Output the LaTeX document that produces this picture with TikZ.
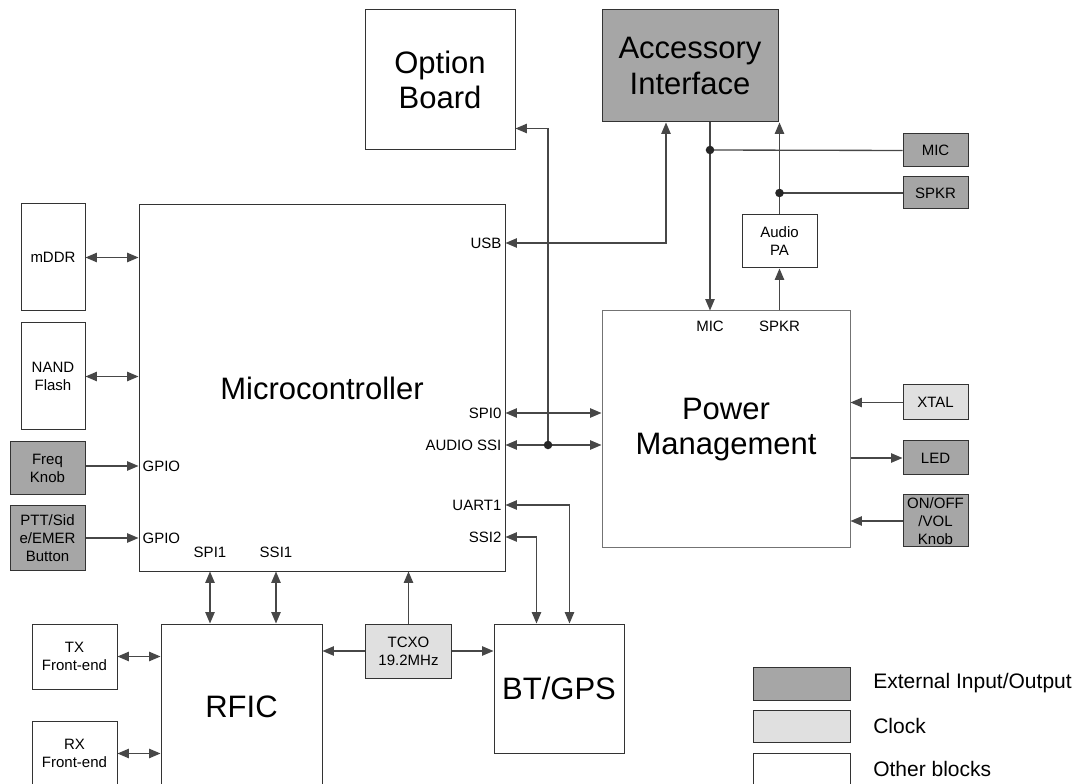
\documentclass[tikz,border=0pt]{standalone}
\usepackage{fontspec}
\setmainfont{Liberation Sans}
\usetikzlibrary{arrows.meta,calc}

\tikzset{
  sz/.style 2 args={minimum width=#1*0.75pt,minimum height=#2*0.75pt},
  blk/.style={draw=black!80,fill=white,line width=0.75pt,inner sep=0pt,align=center,
    font=\fontsize{11.25}{13.5}\selectfont},
  ext/.style={blk,fill=black!35},
  clk/.style={blk,fill=black!12},
  big/.style={font=\fontsize{23.25}{26.5}\selectfont},
  lbl/.style={inner sep=1pt,font=\fontsize{11.25}{13.5}\selectfont},
  legtxt/.style={anchor=west,inner sep=0pt,font=\fontsize{15.75}{18}\selectfont},
  link/.style={draw=black!72,line width=1pt},
  dot/.style={fill=black!85}
}

\begin{document}
\begin{tikzpicture}[x=0.75pt,y=-0.75pt,>={Triangle[length=8.5pt,width=7pt]}]
\useasboundingbox (0,0) rectangle (1083,784);
\clip (0,0) rectangle (1083,784);

% top blocks
\node[blk,big,sz={150}{140}] (opt) at (440,80) {Option\\Board};
\node[ext,big,sz={176}{112}] (acc) at (690,66) {Accessory\\Interface};
\node[ext,sz={65}{33}] (mic) at (935.5,150.5) {MIC};
\node[ext,sz={65}{32}] (spkr) at (935.5,193) {SPKR};
\node[blk,sz={75}{53}] (pa) at (779.5,241.5) {Audio\\PA};

% main blocks
\node[blk,big,sz={366}{366}] (micro) at (322,388) {Microcontroller};
\node[blk,big,sz={248}{237},draw=black!55] (pm) at (726,429.5) {Power\\Management};
\node[blk,big,sz={161}{166}] (rfic) at (241.5,707) {RFIC};
\node[blk,big,sz={130}{129}] (bt) at (559,688.5) {BT/GPS};
\node[clk,sz={86}{54}] (tcxo) at (408.5,651) {TCXO\\19.2MHz};

% left side
\node[blk,sz={64}{107}] (mddr) at (53,257.5) {mDDR};
\node[blk,sz={64}{107}] (nand) at (53,376.5) {NAND\\Flash};
\node[ext,sz={75}{53}] (freq) at (47.5,468.5) {Freq\\Knob};
\node[ext,sz={75}{64}] (ptt) at (47.5,538) {PTT/Sid\\e/EMER\\Button};
\node[blk,sz={85}{65}] (tx) at (74.5,656.5) {TX\\Front-end};
\node[blk,sz={85}{65}] (rx) at (74.5,753.5) {RX\\Front-end};

% right side
\node[clk,sz={65}{35}] (xtal) at (935.5,402.5) {XTAL};
\node[ext,sz={65}{34}] (led) at (935.5,458) {LED};
\node[ext,sz={65}{52}] (knob) at (935.5,521) {ON/OFF\\/VOL\\Knob};

% pin labels
\node[lbl,anchor=east] (usb) at (503,243) {USB};
\node[lbl,anchor=east] (spi0) at (503,413) {SPI0};
\node[lbl,anchor=east] (assi) at (503,445) {AUDIO SSI};
\node[lbl,anchor=east] (uart) at (503,505) {UART1};
\node[lbl,anchor=east] (ssi2) at (503,537) {SSI2};
\node[lbl,anchor=west] (gpioa) at (141,466) {GPIO};
\node[lbl,anchor=west] (gpiob) at (141,538) {GPIO};
\node[lbl] (spi1) at (210,552) {SPI1};
\node[lbl] (ssi1) at (276,552) {SSI1};
\node[lbl] (pmmic) at (710,326) {MIC};
\node[lbl] (pmspkr) at (779.5,326) {SPKR};

% junctions
\coordinate (jssi) at (548,445);
\coordinate (optin) at ($(opt.south east)+(0,-22)$);
\coordinate (jmic) at (710,150);
\coordinate (jspk) at (pa.north |- spkr.west);

% memory and inputs
\draw[link,<->] (mddr.east) -- (mddr.east -| micro.west);
\draw[link,<->] (nand.east) -- (nand.east -| micro.west);
\draw[link,->] (freq.east |- gpioa) -- (micro.west |- gpioa);
\draw[link,->] (ptt.east |- gpiob) -- (micro.west |- gpiob);

% micro to power management
\draw[link,<->] (micro.east |- usb) -| ($(acc.south)+(-24,0)$);
\draw[link,<->] (micro.east |- spi0) -- (pm.west |- spi0);
\draw[link,<->] (micro.east |- assi) -- (pm.west |- assi);
\draw[link,->] (jssi) |- (optin);
\fill[dot] (jssi) circle (3.2pt);
\draw[link,<->] (micro.east |- uart) -| ($(bt.north west)+(76,0)$);
\draw[link,<->] (micro.east |- ssi2) -| ($(bt.north west)+(43,0)$);

% audio path
\draw[link] (mic.west) -- (jmic);
\draw[link,->] (acc.south -| jmic) -- (pm.north -| jmic);
\fill[dot] (jmic) circle (3.2pt);
\draw[link] (spkr.west) -- (jspk);
\draw[link,->] (pa.north) -- (acc.south -| pa.north);
\fill[dot] (jspk) circle (3.2pt);
\draw[link,->] (pm.north -| pa.south) -- (pa.south);

% power management inputs/outputs
\draw[link,->] (xtal.west) -- (pm.east |- xtal.west);
\draw[link,->] (pm.east |- led.west) -- (led.west);
\draw[link,->] (knob.west) -- (pm.east |- knob.west);

% radio side
\draw[link,<->] (micro.south -| spi1) -- (rfic.north -| spi1);
\draw[link,<->] (micro.south -| ssi1) -- (rfic.north -| ssi1);
\draw[link,->] (tcxo.north) -- (micro.south -| tcxo.north);
\draw[link,->] (tcxo.west) -- (rfic.east |- tcxo.west);
\draw[link,->] (tcxo.east) -- (bt.west |- tcxo.east);
\draw[link,<->] (tx.east) -- (rfic.west |- tx.east);
\draw[link,<->] (rx.east) -- (rfic.west |- rx.east);

% legend
\node[ext,sz={97}{33}] (lega) at (801.5,683.5) {};
\node[clk,sz={97}{32}] (legb) at (801.5,726) {};
\node[blk,sz={97}{33}] (legc) at (801.5,769.5) {};
\node[legtxt] (legtxta) at (873,683) {External Input/Output};
\node[legtxt] (legtxtb) at (873,726) {Clock};
\node[legtxt] (legtxtc) at (873,769) {Other blocks};
\end{tikzpicture}
\end{document}
